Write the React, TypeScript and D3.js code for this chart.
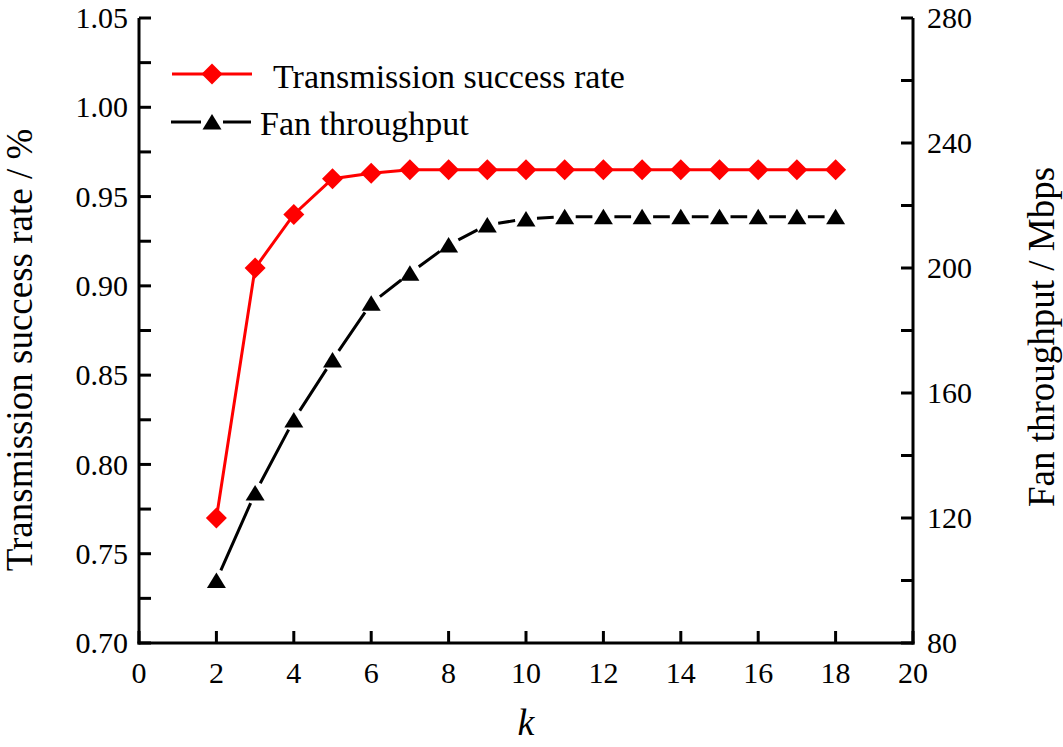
import React from "react";
import * as d3 from "d3";

const kValues = [2, 3, 4, 5, 6, 7, 8, 9, 10, 11, 12, 13, 14, 15, 16, 17, 18];
const successRate = [0.77, 0.91, 0.94, 0.96, 0.963, 0.965, 0.965, 0.965, 0.965, 0.965, 0.965, 0.965, 0.965, 0.965, 0.965, 0.965, 0.965];
const fanThroughput = [100, 128, 151.4, 170.6, 188.7, 198.3, 207.4, 213.8, 215.7, 216.4, 216.4, 216.4, 216.4, 216.4, 216.4, 216.4, 216.4];
const xTicks = [0, 2, 4, 6, 8, 10, 12, 14, 16, 18, 20];
const leftTicks = [0.7, 0.75, 0.8, 0.85, 0.9, 0.95, 1.0, 1.05];
const leftMinor = [0.725, 0.775, 0.825, 0.875, 0.925, 0.975, 1.025];
const rightTicks = [80, 120, 160, 200, 240, 280];
const rightMinor = [100, 140, 180, 220, 260];
const seriesNames = ["Transmission success rate", "Fan throughput"];

const W = 1063, H = 747;
const FONT = "'Liberation Serif', 'DejaVu Serif', serif";

export default function App() {
  const x = d3.scaleLinear().domain([0, 20]).range([139, 913]);
  const yL = d3.scaleLinear().domain([0.7, 1.05]).range([643, 18]);
  const yR = d3.scaleLinear().domain([80, 280]).range([643, 18]);
  const TL = 12;

  const redLine = d3.line<number>().x((_, i) => x(kValues[i])).y((d) => yL(d))(successRate) || "";

  const pts = kValues.map((k, i) => [x(k), yR(fanThroughput[i])] as [number, number]);
  const gap = 11;
  const segs: string[] = [];
  for (let i = 0; i < pts.length - 1; i++) {
    const [x1, y1] = pts[i];
    const [x2, y2] = pts[i + 1];
    const dx = x2 - x1, dy = y2 - y1;
    const len = Math.hypot(dx, dy);
    if (len <= 2 * gap) continue;
    const ux = dx / len, uy = dy / len;
    segs.push(`M${x1 + ux * gap},${y1 + uy * gap}L${x2 - ux * gap},${y2 - uy * gap}`);
  }

  const diamond = (cx: number, cy: number, r = 10.5) => `M${cx},${cy - r}L${cx + r},${cy}L${cx},${cy + r}L${cx - r},${cy}Z`;
  const tri = (cx: number, cy: number) => `M${cx - 9.5},${cy + 7.5}L${cx + 9.5},${cy + 7.5}L${cx},${cy - 8}Z`;
  const ts = { fontFamily: FONT };

  return (
    <svg width={W} height={H} style={{ position: "absolute", left: 0, top: 0, background: "#fff", fontFamily: FONT }}>
      <rect x={0} y={0} width={W} height={H} fill="#fff" />
      <g stroke="#000" strokeWidth={3} fill="none">
        <line x1={x(0)} y1={yL(1.05)} x2={x(0)} y2={yL(0.7) + 1.5} />
        <line x1={x(0) - 1.5} y1={yL(0.7)} x2={x(20) + 1.5} y2={yL(0.7)} />
        <line x1={x(20)} y1={yR(280)} x2={x(20)} y2={yR(80) + 1.5} />
        {leftTicks.concat(leftMinor).map((t) => (
          <line key={"l" + t} x1={x(0)} x2={x(0) + TL} y1={yL(t)} y2={yL(t)} />
        ))}
        {rightTicks.concat(rightMinor).map((t) => (
          <line key={"r" + t} x1={x(20)} x2={x(20) - TL} y1={yR(t)} y2={yR(t)} />
        ))}
        {xTicks.map((t) => (
          <line key={"b" + t} x1={x(t)} x2={x(t)} y1={yL(0.7)} y2={yL(0.7) - TL} />
        ))}
      </g>
      <g fill="#000">
        {leftTicks.map((t) => (
          <text key={"lt" + t} style={ts} fontSize={30} x={128} y={yL(t)} dy="0.34em" textAnchor="end">{t.toFixed(2)}</text>
        ))}
        {rightTicks.map((t) => (
          <text key={"rt" + t} style={ts} fontSize={30} x={927} y={yR(t)} dy="0.34em" textAnchor="start">{t}</text>
        ))}
        {xTicks.map((t) => (
          <text key={"bt" + t} style={ts} fontSize={30} x={x(t)} y={683} textAnchor="middle">{t}</text>
        ))}
      </g>
      <text style={ts} transform="translate(32,350) rotate(-90)" textAnchor="middle" fontSize={37}>Transmission success rate / %</text>
      <text style={ts} transform="translate(1054,337) rotate(-90)" textAnchor="middle" fontSize={37}>Fan throughput / Mbps</text>
      <text style={ts} x={526} y={735} textAnchor="middle" fontSize={38} fontStyle="italic">k</text>
      <path d={redLine} fill="none" stroke="#ff0000" strokeWidth={3} />
      {successRate.map((v, i) => (
        <path key={"d" + i} d={diamond(x(kValues[i]), yL(v))} fill="#ff0000" />
      ))}
      <path d={segs.join("")} fill="none" stroke="#000" strokeWidth={3} />
      {pts.map(([px, py], i) => (
        <path key={"t" + i} d={tri(px, py)} fill="#000" />
      ))}
      <line x1={172} x2={252} y1={74} y2={74} stroke="#ff0000" strokeWidth={3} />
      <path d={diamond(212, 74)} fill="#ff0000" />
      <text style={ts} x={273} y={88} fontSize={34}>{seriesNames[0]}</text>
      <line x1={171} x2={201} y1={122} y2={122} stroke="#000" strokeWidth={3} />
      <line x1={223} x2={251} y1={122} y2={122} stroke="#000" strokeWidth={3} />
      <path d={tri(212, 122)} fill="#000" />
      <text style={ts} x={260} y={135} fontSize={34}>{seriesNames[1]}</text>
    </svg>
  );
}
